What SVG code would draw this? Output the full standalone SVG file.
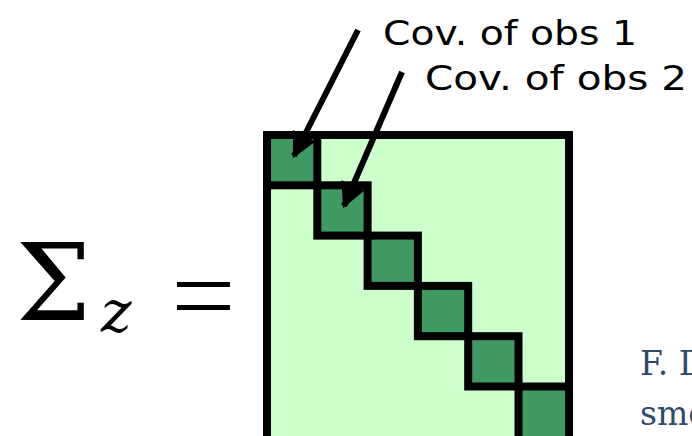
<svg xmlns="http://www.w3.org/2000/svg" width="692" height="436" viewBox="0 0 692 436">
<style>
.lbl{font-family:"DejaVu Sans","Liberation Sans",sans-serif;font-size:34px;fill:#000}
.math{font-family:"DejaVu Serif","Liberation Serif",serif;fill:#000}
.cap{font-family:"DejaVu Serif","Liberation Serif",serif;font-size:33px;fill:#2f4b6c}
.blk{fill:#3f9a62;stroke:#000;stroke-width:8}
.conn{stroke:#000;stroke-width:6;fill:none;marker-end:url(#ah)}
</style>
<defs>
<marker id="ah" viewBox="0 0 10 10" refX="9" refY="5" markerWidth="4.5" markerHeight="4.2" orient="auto" markerUnits="strokeWidth">
<path d="M0,0 L10,5 L0,10 z" fill="#000"/>
</marker>
</defs>
<rect width="692" height="436" fill="#fff"/>
<g id="equation">
<text class="math" x="16" y="320" font-size="106">Σ</text>
<text class="math" x="101" y="332" font-size="58" font-style="italic">z</text>
<rect x="177" y="282" width="53" height="5" fill="#000"/>
<rect x="177" y="305" width="53" height="5" fill="#000"/>
</g>
<g id="matrix">
<rect x="267" y="135" width="302" height="310" fill="#ccffcc" stroke="#000" stroke-width="8"/>
<rect class="blk" x="267" y="135" width="50.3" height="50.3"/>
<rect class="blk" x="317.3" y="185.3" width="50.3" height="50.3"/>
<rect class="blk" x="367.6" y="235.6" width="50.3" height="50.3"/>
<rect class="blk" x="417.9" y="285.9" width="50.3" height="50.3"/>
<rect class="blk" x="468.2" y="336.2" width="50.3" height="50.3"/>
<rect class="blk" x="518.5" y="386.5" width="50.5" height="58"/>
</g>
<g id="label1"><text class="lbl" x="383" y="45" textLength="254" lengthAdjust="spacingAndGlyphs">Cov. of obs 1</text></g>
<g id="label2"><text class="lbl" x="425" y="90" textLength="262" lengthAdjust="spacingAndGlyphs">Cov. of obs 2</text></g>
<g id="connectors">
<line class="conn" x1="358" y1="30" x2="294" y2="156"/>
<line class="conn" x1="402" y1="72" x2="344" y2="206"/>
</g>
<g id="caption">
<text class="cap" x="640" y="375">F. D</text>
<text class="cap" x="640" y="425">smo</text>
</g>
</svg>
